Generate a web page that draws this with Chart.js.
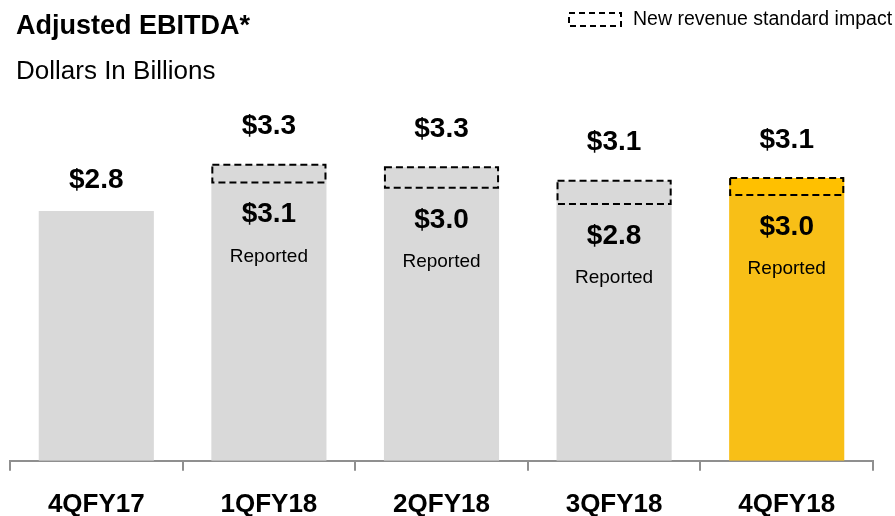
<!DOCTYPE html>
<html>
<head>
<meta charset="utf-8">
<script src="https://cdn.jsdelivr.net/npm/chart.js@4"></script>
<style>
  html, body { margin: 0; padding: 0; background: #fff; }
  #wrap { width: 895px; height: 516px; position: relative; }
</style>
</head>
<body>
<div id="wrap"><canvas id="ebitda-chart"></canvas></div>
<script>
// 数据
const categories = ['4QFY17', '1QFY18', '2QFY18', '3QFY18', '4QFY18'];
const reportedValues = [2.8, 3.12, 3.06, 2.88, 2.98];
const impactValues = [0, 0.20, 0.23, 0.26, 0.19];
const totalLabels = ['$2.8', '$3.3', '$3.3', '$3.1', '$3.1'];
const reportedLabels = [null, '$3.1', '$3.0', '$2.8', '$3.0'];

const FONT = '"Liberation Sans", Arial, sans-serif';
const GREY = '#d9d9d9';
const GOLD = '#f8bf17';
const GOLD_IMPACT = '#ffc000';

// 标题、图例、数值标签
const annotatePlugin = {
  id: 'annotate',
  afterDatasetsDraw(chart) {
    const ctx = chart.ctx;
    const repMeta = chart.getDatasetMeta(0);
    const impMeta = chart.getDatasetMeta(1);
    ctx.save();
    repMeta.data.forEach((bar, i) => {
      const imp = impMeta.data[i];
      const half = bar.width / 2;
      let top = bar.y;
      if (impactValues[i] > 0) {
        top = imp.y;
        ctx.setLineDash([7, 4]);
        ctx.lineWidth = 2;
        ctx.strokeStyle = '#000';
        ctx.strokeRect(imp.x - half + 1, imp.y, bar.width - 2, imp.base - imp.y);
        ctx.setLineDash([]);
      }
      ctx.fillStyle = '#000';
      ctx.textAlign = 'center';
      ctx.textBaseline = 'middle';
      ctx.font = 'bold 28px ' + FONT;
      ctx.fillText(totalLabels[i], bar.x, top - (impactValues[i] > 0 ? 38 : 31));
      if (reportedLabels[i]) {
        ctx.fillText(reportedLabels[i], bar.x, bar.y + 32);
        ctx.font = '19px ' + FONT;
        ctx.fillText('Reported', bar.x, bar.y + 74);
      }
    });

    // 标题
    ctx.textAlign = 'left';
    ctx.textBaseline = 'alphabetic';
    ctx.font = 'bold 27px ' + FONT;
    ctx.fillText('Adjusted EBITDA*', 16, 34);
    ctx.font = '26px ' + FONT;
    ctx.fillText('Dollars In Billions', 16, 79);

    // 图例
    ctx.setLineDash([6, 4]);
    ctx.lineWidth = 2;
    ctx.strokeRect(569, 13, 52, 13);
    ctx.setLineDash([]);
    ctx.font = '19.5px ' + FONT;
    ctx.textBaseline = 'middle';
    ctx.fillText('New revenue standard impact', 633, 20);
    ctx.restore();
  }
};

const ctx = document.getElementById('ebitda-chart').getContext('2d');
new Chart(ctx, {
  type: 'bar',
  data: {
    labels: categories,
    datasets: [{
      label: 'Reported',
      data: reportedValues,
      backgroundColor: [GREY, GREY, GREY, GREY, GOLD],
      borderWidth: 0,
      categoryPercentage: 1,
      barPercentage: 0.667
    }, {
      label: 'New revenue standard impact',
      data: impactValues,
      backgroundColor: [GREY, GREY, GREY, GREY, GOLD_IMPACT],
      borderWidth: 0,
      categoryPercentage: 1,
      barPercentage: 0.667
    }]
  },
  options: {
    responsive: true,
    maintainAspectRatio: false,
    animation: false,
    layout: { padding: { top: 104, left: 10, right: 22, bottom: -22 } },
    scales: {
      x: {
        stacked: true,
        border: { display: true, color: '#8f8f8f', width: 2 },
        grid: { offset: true, drawOnChartArea: false, drawTicks: true, tickLength: 10, color: '#8f8f8f', lineWidth: 2 },
        ticks: { color: '#000', padding: 18, font: { family: FONT, size: 26, weight: 'bold' } }
      },
      y: {
        stacked: true,
        display: false,
        min: 0,
        max: 4
      }
    },
    plugins: { legend: { display: false }, tooltip: { enabled: false } }
  },
  plugins: [annotatePlugin]
});
</script>
</body>
</html>
